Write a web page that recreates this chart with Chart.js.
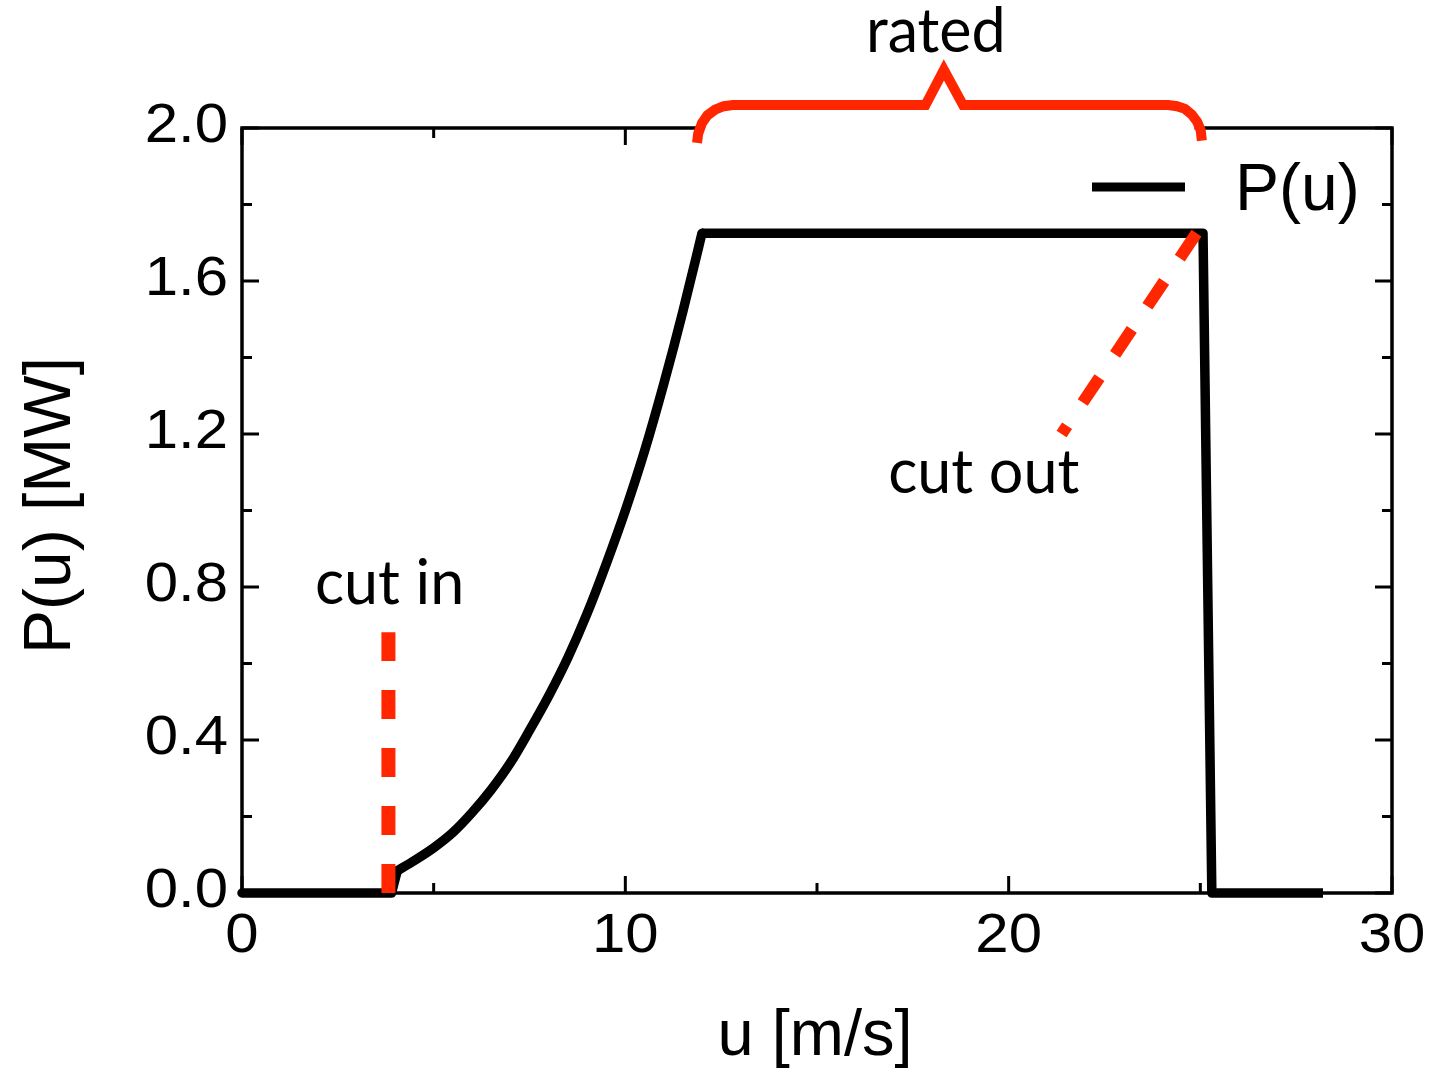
<!DOCTYPE html>
<html>
<head>
<meta charset="utf-8">
<script src="https://cdn.jsdelivr.net/npm/chart.js@4.4.1/dist/chart.umd.min.js"></script>
<style>
  html, body { margin: 0; padding: 0; background: #fff; }
  #wrap { width: 1430px; height: 1071px; }
</style>
</head>
<body>
<div id="wrap"><canvas id="c" width="1430" height="1071"></canvas></div>
<script>
// ---- data ----
// below cut-in
const offU = [0, 3.9, 4.05];
const offP = [0, 0, 0.058];
// rising (cubic-like) part
const riseU = [4.05, 4.5, 5.0, 5.5, 6.0, 6.5, 7.0, 7.5, 8.0, 8.5, 9.0, 9.5, 10.0, 10.5, 11.0, 11.5, 12.0];
const riseP = [0.058, 0.085, 0.118, 0.158, 0.21, 0.27, 0.34, 0.425, 0.515, 0.615, 0.73, 0.86, 1.0, 1.155, 1.33, 1.52, 1.725];
// rated plateau and cut-out drop
const ratedU = [12.0, 25.07, 25.3, 28.2];
const ratedP = [1.725, 1.725, 0, 0];

const cutInU = [3.82, 3.82];
const cutInP = [0, 0.682];

const cutOutU = [24.9, 21.38];
const cutOutP = [1.725, 1.20];

const braceU = [11.87, 11.90, 12.00, 12.14, 12.34, 12.57, 12.81, 17.83, 18.31, 18.81, 24.16, 24.39, 24.60, 24.78, 24.92, 25.01, 25.04];
const braceP = [1.961, 1.985, 2.013, 2.033, 2.048, 2.057, 2.060, 2.060, 2.152, 2.060, 2.060, 2.057, 2.050, 2.035, 2.016, 1.994, 1.967];

const xTicks = [0, 10, 20, 30];
const xMinorTicks = [5, 15, 25];
const yTicks = [0, 0.4, 0.8, 1.2, 1.6, 2.0];
const yMinorTicks = [0.2, 0.6, 1.0, 1.4, 1.8];
const xTickLabels = ['0', '10', '20', '30'];
const yTickLabels = ['0.0', '0.4', '0.8', '1.2', '1.6', '2.0'];

const seriesLabel = 'P(u)';
const xTitle = 'u [m/s]';
const yTitle = 'P(u) [MW]';
const notes = [
  { text: 'rated',   u: 18.1,  p: 2.199 },
  { text: 'cut in',  u: 3.85,  p: 0.755 },
  { text: 'cut out', u: 19.35, p: 1.046 }
];

const RED = '#ff2600';
const SANS = '"Liberation Sans", Arial, Helvetica, sans-serif';
const zip = (a, b) => a.map((v, i) => ({ x: v, y: b[i] }));

const deco = {
  id: 'deco',
  beforeDatasetsDraw(chart) {
    const { ctx, chartArea: a, scales: { x, y } } = chart;
    ctx.save();
    ctx.strokeStyle = '#000';
    ctx.lineWidth = 3.5;
    ctx.strokeRect(a.left, a.top, a.right - a.left, a.bottom - a.top);
    ctx.lineWidth = 3;
    ctx.beginPath();
    const xt = (v, len) => {
      const px = x.getPixelForValue(v);
      ctx.moveTo(px, a.bottom); ctx.lineTo(px, a.bottom - len);
      ctx.moveTo(px, a.top); ctx.lineTo(px, a.top + len);
    };
    const yt = (v, len) => {
      const py = y.getPixelForValue(v);
      ctx.moveTo(a.left, py); ctx.lineTo(a.left + len, py);
      ctx.moveTo(a.right, py); ctx.lineTo(a.right - len, py);
    };
    xTicks.forEach(v => xt(v, 17));
    xMinorTicks.forEach(v => xt(v, 10));
    yTicks.forEach(v => yt(v, 17));
    yMinorTicks.forEach(v => yt(v, 10));
    ctx.stroke();
    // white backing of the brace, hiding the top frame
    const l = x.getPixelForValue(11.9), r = x.getPixelForValue(24.85);
    ctx.fillStyle = '#fff';
    ctx.fillRect(l, a.top - 8, r - l, 26);
    ctx.restore();
  },
  afterDraw(chart) {
    const { ctx, chartArea: a, scales: { x, y } } = chart;
    ctx.save();
    ctx.fillStyle = '#000';
    ctx.textBaseline = 'alphabetic';
    // tick labels (slightly wide, like the reference)
    ctx.font = '56px ' + SANS;
    const stretch = 1.07;
    yTicks.forEach((v, i) => {
      ctx.save();
      ctx.translate(a.left - 14, y.getPixelForValue(v) + 14);
      ctx.scale(stretch, 1);
      ctx.textAlign = 'right';
      ctx.fillText(yTickLabels[i], 0, 0);
      ctx.restore();
    });
    xTicks.forEach((v, i) => {
      ctx.save();
      ctx.translate(x.getPixelForValue(v), a.bottom + 59);
      ctx.scale(stretch, 1);
      ctx.textAlign = 'center';
      ctx.fillText(xTickLabels[i], 0, 0);
      ctx.restore();
    });
    // axis titles
    ctx.textAlign = 'center';
    ctx.font = '65px ' + SANS;
    ctx.fillText(xTitle, (a.left + a.right) / 2 - 2, 1055);
    ctx.save();
    ctx.translate(70, (a.top + a.bottom) / 2 - 5);
    ctx.rotate(-Math.PI / 2);
    ctx.font = '66px ' + SANS;
    ctx.fillText(yTitle, 0, 0);
    ctx.restore();
    // annotations
    ctx.font = '61px Lato, "Open Sans", sans-serif';
    notes.forEach(n => ctx.fillText(n.text, x.getPixelForValue(n.u), y.getPixelForValue(n.p)));
    // legend
    ctx.strokeStyle = '#000';
    ctx.lineWidth = 9;
    ctx.beginPath();
    ctx.moveTo(1092, 187); ctx.lineTo(1185, 187);
    ctx.stroke();
    ctx.textAlign = 'left';
    ctx.font = '66px ' + SANS;
    ctx.fillText(seriesLabel, 1235, 210);
    ctx.restore();
  }
};

const curveStyle = { showLine: true, borderColor: '#000', borderWidth: 9.5, borderJoinStyle: 'round',
                     borderCapStyle: 'round', pointRadius: 0, clip: false, order: 2 };

new Chart(document.getElementById('c'), {
  type: 'scatter',
  data: {
    datasets: [
      { label: 'cut in', data: zip(cutInU, cutInP), showLine: true, borderColor: RED, borderWidth: 14,
        borderDash: [29, 29], borderCapStyle: 'butt', pointRadius: 0, clip: false, order: 1 },
      { label: 'cut out', data: zip(cutOutU, cutOutP), showLine: true, borderColor: RED, borderWidth: 12,
        borderDash: [30, 28], borderCapStyle: 'butt', pointRadius: 0, clip: false, order: 1 },
      { label: 'rated', data: zip(braceU, braceP), showLine: true, borderColor: RED, borderWidth: 10,
        borderJoinStyle: 'miter', pointRadius: 0, clip: false, order: 1 },
      Object.assign({ label: seriesLabel + ' off', data: zip(offU, offP), tension: 0 }, curveStyle),
      Object.assign({ label: seriesLabel, data: zip(riseU, riseP), cubicInterpolationMode: 'monotone' }, curveStyle),
      Object.assign({ label: seriesLabel + ' rated', data: zip(ratedU, ratedP), tension: 0 },
                    curveStyle, { borderCapStyle: 'butt' })
    ]
  },
  options: {
    responsive: false,
    animation: false,
    devicePixelRatio: 1,
    layout: { padding: { left: 0, top: 128, right: 38, bottom: 0 } },
    plugins: { legend: { display: false }, tooltip: { enabled: false } },
    scales: {
      x: {
        type: 'linear', min: 0, max: 30,
        afterBuildTicks: s => { s.ticks = xTicks.map(v => ({ value: v })); },
        afterFit: s => { s.height = 178; },
        grid: { display: false }, border: { display: false },
        ticks: { display: false }
      },
      y: {
        type: 'linear', min: 0, max: 2.0,
        afterBuildTicks: s => { s.ticks = yTicks.map(v => ({ value: v })); },
        afterFit: s => { s.width = 242; },
        grid: { display: false }, border: { display: false },
        ticks: { display: false }
      }
    }
  },
  plugins: [deco]
});
</script>
</body>
</html>
